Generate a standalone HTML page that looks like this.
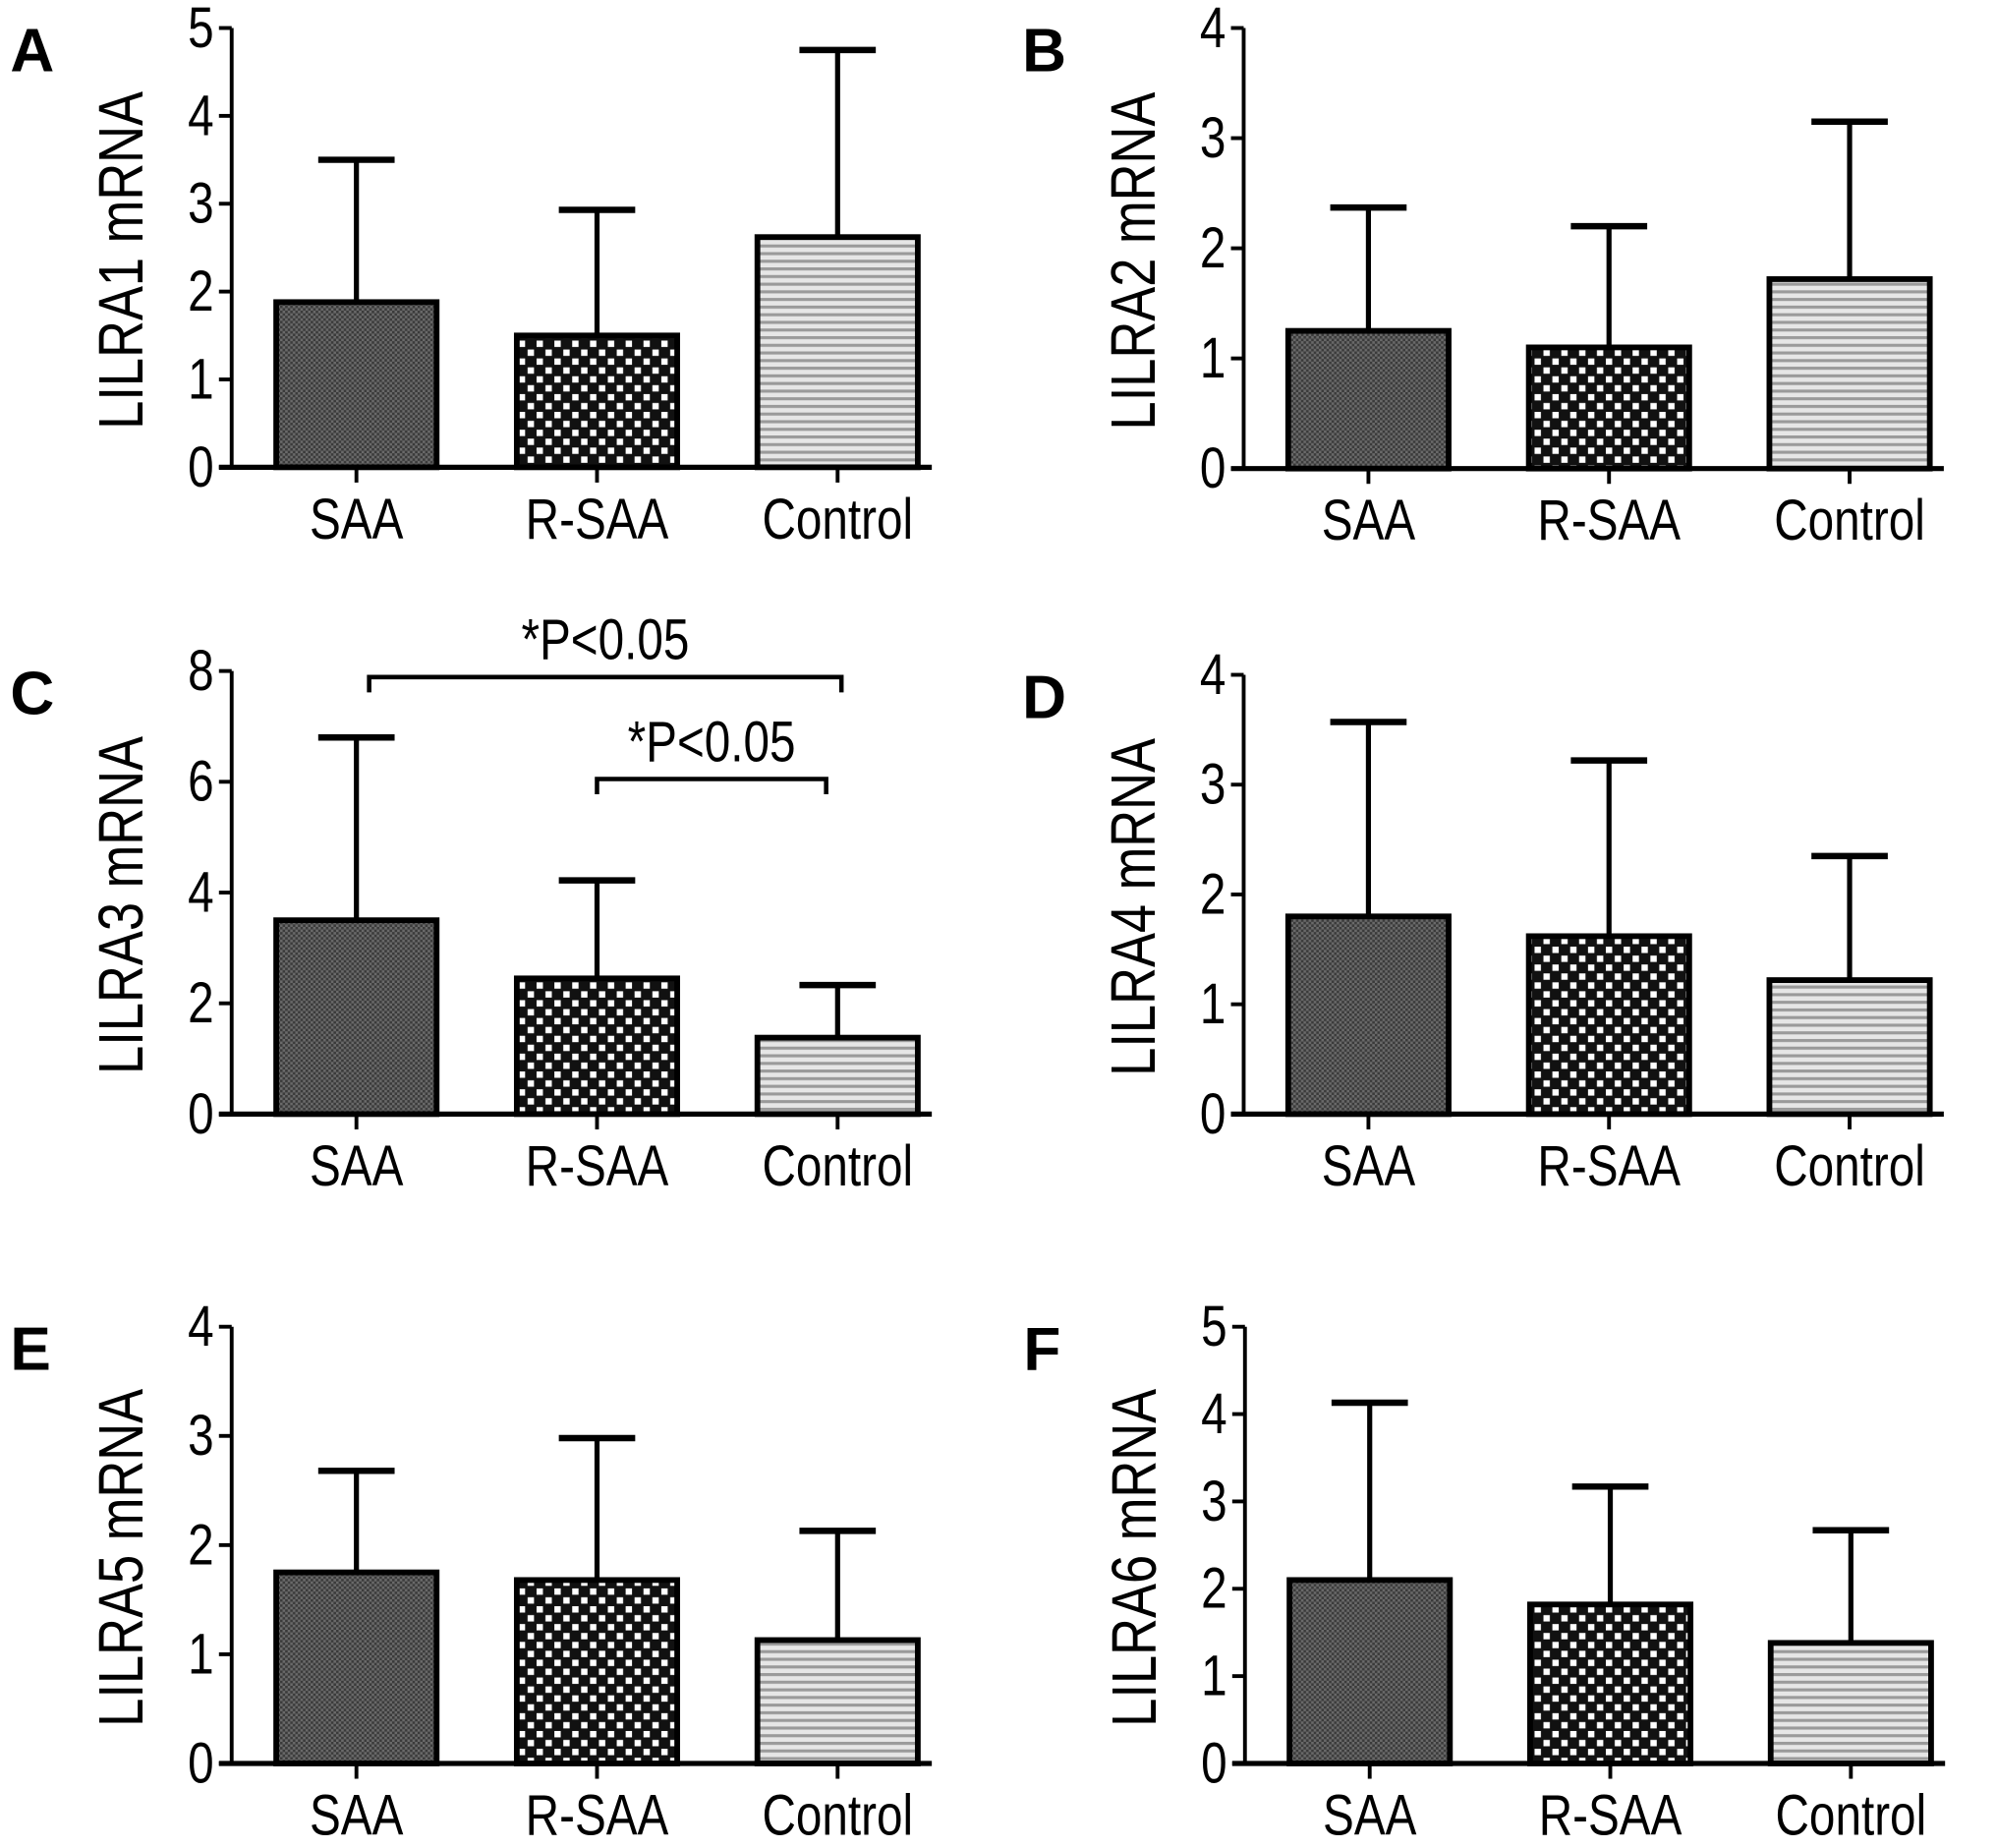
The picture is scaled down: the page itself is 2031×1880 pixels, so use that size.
<!DOCTYPE html>
<html><head><meta charset="utf-8"><style>
html,body{margin:0;padding:0;background:#fff;}
svg{display:block;font-family:"Liberation Sans",Arial,sans-serif;}
</style></head><body>
<svg id="fig" width="2031" height="1880" viewBox="0 0 1568 1451.4" preserveAspectRatio="none" xmlns="http://www.w3.org/2000/svg">
<defs>
<pattern id="pSAA" width="4" height="4" patternUnits="userSpaceOnUse"><rect width="4" height="4" fill="#6a6a6a"/><rect width="2" height="2" fill="#3a3a3a"/><rect x="2" y="2" width="2" height="2" fill="#3a3a3a"/></pattern>
<pattern id="pRSAA" width="14" height="14" patternUnits="userSpaceOnUse"><rect width="14" height="14" fill="#111"/><rect x="1.5" y="1.5" width="5" height="5" fill="#fff"/><rect x="8.5" y="8.5" width="5" height="5" fill="#fff"/></pattern>
<pattern id="pCtrl" width="8" height="6" patternUnits="userSpaceOnUse"><rect width="8" height="6" fill="#e6e6e6"/><rect y="0" width="8" height="2.4" fill="#9a9a9a"/></pattern>
</defs>
</svg>
<script>
const categories = ["SAA","R-SAA","Control"];
const panelLetters = ["A","B","C","D","E","F"];
const yTitles = ["LILRA1 mRNA","LILRA2 mRNA","LILRA3 mRNA","LILRA4 mRNA","LILRA5 mRNA","LILRA6 mRNA"];
const yMax = [5,4,8,4,4,5];
const yStep = [1,1,2,1,1,1];
const meansA = [1.88,1.5,2.62], errTopA = [3.5,2.93,4.75];
const meansB = [1.25,1.1,1.72], errTopB = [2.37,2.2,3.15];
const meansC = [3.5,2.45,1.38], errTopC = [6.8,4.22,2.33];
const meansD = [1.8,1.62,1.22], errTopD = [3.57,3.22,2.35];
const meansE = [1.75,1.68,1.13], errTopE = [2.68,2.98,2.13];
const meansF = [2.1,1.82,1.38], errTopF = [4.13,3.17,2.67];
const allMeans = [meansA,meansB,meansC,meansD,meansE,meansF];
const allTops = [errTopA,errTopB,errTopC,errTopD,errTopE,errTopF];
const sigLevels = [7.89, 6.05];
const sigPairs = [[0,2],[1,2]];
const sigLabels = ["*P<0.05","*P<0.05"];

const svg = document.getElementById('fig');
const NS = "http://www.w3.org/2000/svg";
function mk(tag, attrs, parent){
  const e = document.createElementNS(NS, tag);
  for (const k in attrs) e.setAttribute(k, attrs[k]);
  (parent||svg).appendChild(e);
  return e;
}
function txt(parent, x, y, size, anchor, s, extra){
  const t = mk('text',{x:0,y:0,'font-size':size,'text-anchor':anchor,transform:`translate(${x},${y}) ${extra||''} scale(0.92,1.12)`},parent);
  t.textContent = s;
  return t;
}
const fills = ["url(#pSAA)","url(#pRSAA)","url(#pCtrl)"];
const layout = [
  {ax:182,y0:367,yT:22},{ax:977,y0:368,yT:22},
  {ax:182,y0:875,yT:527},{ax:977,y0:875,yT:530},
  {ax:182,y0:1385,yT:1042},{ax:978,y0:1385,yT:1042}
];
layout.forEach((L,p)=>{
  const g = mk('g',{});
  
  
  const yScale = v => L.y0 - (v / yMax[p]) * (L.y0 - L.yT);
  const xCenter = i => L.ax + 98 + i * 189;
  const bw = 126;
  const lt = mk('text',{x:L.ax-174,y:L.yT+34,'font-size':48,'font-weight':'bold'},g);
  lt.textContent = panelLetters[p];
  
  
  const cy = (L.y0+L.yT)/2;
  const yt = txt(g, L.ax-70, cy+10, 44, 'middle', yTitles[p], 'rotate(-90)');
  
  
  categories.forEach((c,i)=>{
    const xc = xCenter(i);
    const top = yScale(allTops[p][i]), m = yScale(allMeans[p][i]);
    const el = mk('line',{x1:xc,x2:xc,y1:top,y2:m,stroke:'#000','stroke-width':4},g);
    
    
    const cap = mk('line',{x1:xc-30,x2:xc+30,y1:top,y2:top,stroke:'#000','stroke-width':5},g);
    
    
    const r = mk('rect',{x:xc-bw/2,y:m,width:bw,height:L.y0-m,fill:fills[i],stroke:'#000','stroke-width':4.5},g);
    
    
    const tk = mk('line',{x1:xc,x2:xc,y1:L.y0,y2:L.y0+12,stroke:'#000','stroke-width':3},g);
    
    
    const tl = txt(g, xc, L.y0+56, 40, 'middle', c);
    
    
  });
  const ya = mk('line',{x1:L.ax,x2:L.ax,y1:L.yT,y2:L.y0,stroke:'#000','stroke-width':3},g);
  
  
  const xa = mk('line',{x1:L.ax-10,x2:L.ax+550,y1:L.y0,y2:L.y0,stroke:'#000','stroke-width':4},g);
  
  
  for (let v=0; v<=yMax[p]; v+=yStep[p]){
    const y = yScale(v);
    const t = mk('line',{x1:L.ax-10,x2:L.ax,y1:y,y2:y,stroke:'#000','stroke-width':3},g);
    
    
    const tx = txt(g, L.ax-14, y+15, 40, 'end', String(v));
    
    
  }
  if (p===2){
    sigPairs.forEach((pr,k)=>{
      const y = yScale(sigLevels[k]);
      const x1 = xCenter(pr[0]) + (k===0?10:0), x2 = xCenter(pr[1]) - (k===0?-3:9);
      const b = mk('path',{d:`M${x1},${y+12} L${x1},${y} L${x2},${y} L${x2},${y+12}`,fill:'none',stroke:'#000','stroke-width':3.5},g);
      
      
      const st = txt(g, (x1+x2)/2, y-14, 40, 'middle', sigLabels[k]);
      
      
    });
  }
});
</script>
</body></html>
